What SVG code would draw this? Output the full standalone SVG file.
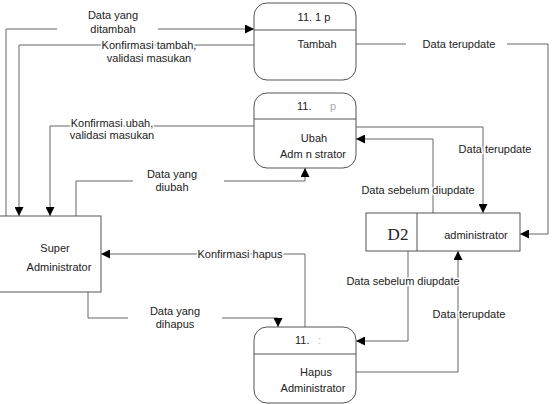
<svg xmlns="http://www.w3.org/2000/svg" width="552" height="404" viewBox="0 0 552 404">
<style>
text{font-family:"Liberation Sans",Arial,sans-serif;font-size:11px;fill:#222}
.lbl{stroke:#fff;stroke-width:3px;paint-order:stroke;stroke-linejoin:round}
.shape{fill:#fff;stroke:#555;stroke-width:1}
.c{fill:none;stroke:#666;stroke-width:1}
.div{stroke:#555;stroke-width:1}
</style>
<defs>
<marker id="ah" viewBox="0 0 10 10" refX="10" refY="5" markerWidth="9" markerHeight="9" markerUnits="userSpaceOnUse" orient="auto">
<path d="M0,0 L10,5 L0,10 z" fill="#000"/>
</marker>
</defs>
<g id="connectors">
<path class="c" d="M6,216 V29 H57"/>
<path class="c" d="M158,29 H254" marker-end="url(#ah)"/>
<path class="c" d="M254,45 H19 V216" marker-end="url(#ah)"/>
<path class="c" d="M254,126 H50 V216" marker-end="url(#ah)"/>
<path class="c" d="M76,216 V181 H133"/>
<path class="c" d="M224,181 H305 V168" marker-end="url(#ah)"/>
<path class="c" d="M356,44 H406"/>
<path class="c" d="M507,44 H548 V234 H520" marker-end="url(#ah)"/>
<path class="c" d="M356,127 H483 V213" marker-end="url(#ah)"/>
<path class="c" d="M433,213 V139 H356" marker-end="url(#ah)"/>
<path class="c" d="M305,327 V254 H101" marker-end="url(#ah)"/>
<path class="c" d="M88,292 V318 H128"/>
<path class="c" d="M222,318 H278 V327" marker-end="url(#ah)"/>
<path class="c" d="M408,251 V341 H356" marker-end="url(#ah)"/>
<path class="c" d="M356,372 H458 V251" marker-end="url(#ah)"/>
<text x="113" y="19" text-anchor="middle">Data yang</text>
<text x="113" y="33" text-anchor="middle">ditambah</text>
<text class="lbl" x="149" y="49" text-anchor="middle">Konfirmasi tambah,</text>
<text class="lbl" x="149" y="62" text-anchor="middle">validasi masukan</text>
<text class="lbl" x="112" y="127" text-anchor="middle">Konfirmasi ubah,</text>
<text class="lbl" x="112" y="139" text-anchor="middle">validasi masukan</text>
<text x="172" y="178" text-anchor="middle">Data yang</text>
<text x="172" y="191" text-anchor="middle">diubah</text>
<text x="459" y="48" text-anchor="middle">Data terupdate</text>
<text class="lbl" x="495" y="153" text-anchor="middle">Data terupdate</text>
<text class="lbl" x="418" y="194" text-anchor="middle">Data sebelum diupdate</text>
<text class="lbl" x="240" y="258" text-anchor="middle">Konfirmasi hapus</text>
<text x="175" y="315" text-anchor="middle">Data yang</text>
<text x="175" y="328" text-anchor="middle">dihapus</text>
<text class="lbl" x="403" y="285" text-anchor="middle">Data sebelum diupdate</text>
<text class="lbl" x="469" y="318" text-anchor="middle">Data terupdate</text>
</g>
<g id="p1">
<rect class="shape" x="254" y="3" width="102" height="77" rx="13"/>
<line class="div" x1="254" y1="30" x2="356" y2="30"/>
<text x="314" y="21" text-anchor="middle">11. 1 p</text>
<text x="317" y="48" text-anchor="middle">Tambah</text>
</g>
<g id="p2">
<rect class="shape" x="254" y="93" width="102" height="75" rx="13"/>
<line class="div" x1="254" y1="119" x2="356" y2="119"/>
<text x="297" y="110">11.</text>
<text x="330" y="110" fill="#999" style="fill:#aaa">p</text>
<text x="314" y="142" text-anchor="middle">Ubah</text>
<text x="313" y="158" text-anchor="middle">Adm n strator</text>
</g>
<g id="p3">
<rect class="shape" x="254" y="327" width="102" height="76" rx="13"/>
<line class="div" x1="254" y1="354" x2="356" y2="354"/>
<text x="295" y="344">11.</text>
<text x="318" y="344" style="fill:#bbb">:</text>
<text x="316" y="376" text-anchor="middle">Hapus</text>
<text x="313" y="392" text-anchor="middle">Administrator</text>
</g>
<g id="superadmin">
<rect class="shape" x="-1" y="216" width="102" height="76"/>
<text x="55" y="252" text-anchor="middle">Super</text>
<text x="59" y="271" text-anchor="middle">Administrator</text>
</g>
<g id="d2">
<rect class="shape" x="366" y="213" width="154" height="38"/>
<line class="div" x1="417" y1="213" x2="417" y2="251"/>
<text x="398" y="240" text-anchor="middle" style="font-family:'Liberation Serif','Times New Roman',serif;font-size:17px">D2</text>
<text x="476" y="239" text-anchor="middle">administrator</text>
</g>
</svg>
